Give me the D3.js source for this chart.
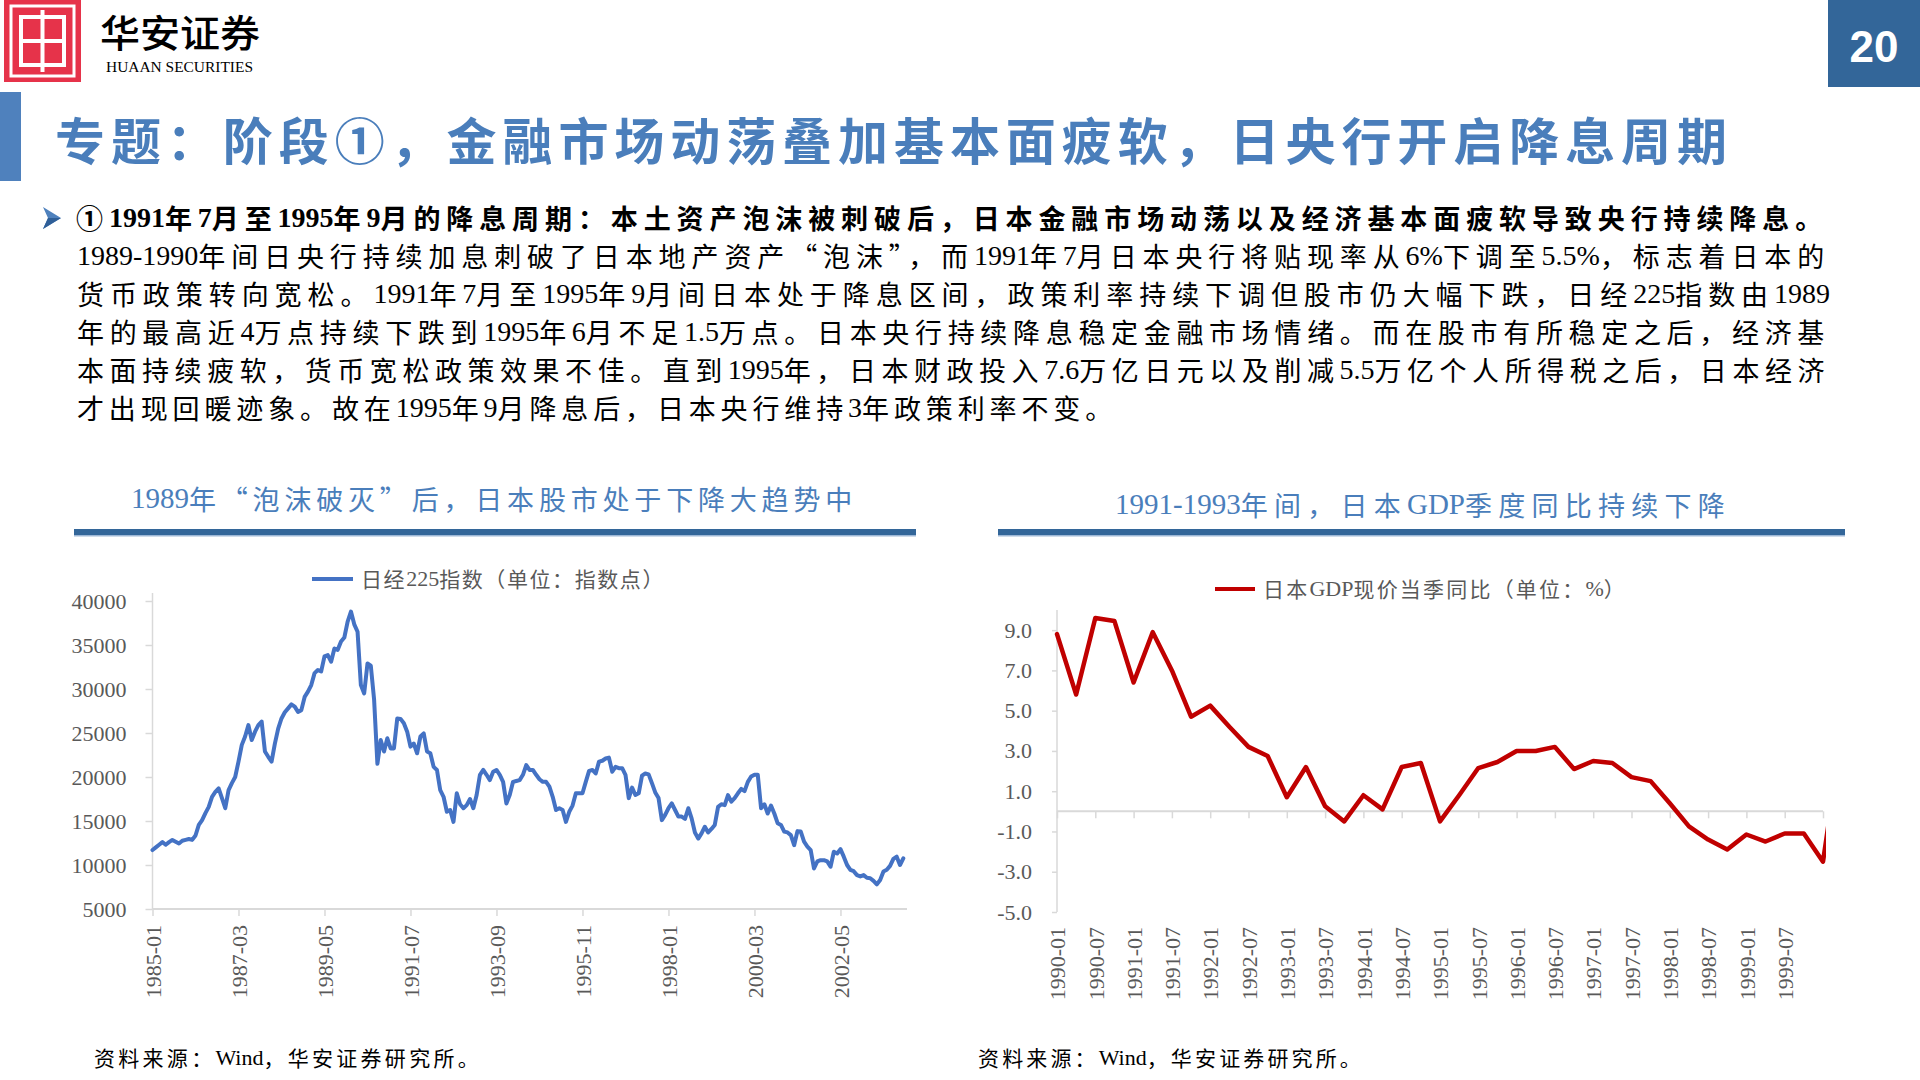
<!DOCTYPE html>
<html><head><meta charset="utf-8">
<script src="https://cdn.jsdelivr.net/npm/d3@7/dist/d3.min.js"></script>
<style>html,body{margin:0;padding:0;background:#fff;}svg{display:block}</style>
</head><body>
<svg id="c" width="1920" height="1080"></svg>
<script>
// ---------------- DATA ----------------
const pageTitle = "专题：阶段①，金融市场动荡叠加基本面疲软，日央行开启降息周期";
const pageNumber = "20";
const leadLine = "①1991年7月至1995年9月的降息周期：本土资产泡沫被刺破后，日本金融市场动荡以及经济基本面疲软导致央行持续降息。";
const bodyLines = [
  "1989-1990年间日央行持续加息刺破了日本地产资产“泡沫”，而1991年7月日本央行将贴现率从6%下调至5.5%，标志着日本的",
  "货币政策转向宽松。1991年7月至1995年9月间日本处于降息区间，政策利率持续下调但股市仍大幅下跌，日经225指数由1989",
  "年的最高近4万点持续下跌到1995年6月不足1.5万点。日本央行持续降息稳定金融市场情绪。而在股市有所稳定之后，经济基",
  "本面持续疲软，货币宽松政策效果不佳。直到1995年，日本财政投入7.6万亿日元以及削减5.5万亿个人所得税之后，日本经济",
  "才出现回暖迹象。故在1995年9月降息后，日本央行维持3年政策利率不变。"
];
const nikkeiTitle = "1989年“泡沫破灭”后，日本股市处于下降大趋势中";
const nikkeiLegend = "日经225指数（单位：指数点）";
const nikkeiStartYear = 1985;
const nikkeiValues = [
  11700,12000,12300,12600,12300,12600,12850,12650,12450,12750,12850,12950,
  12850,13350,14550,15100,15900,16600,17750,18300,18700,17600,16450,18500,
  19300,20000,21750,23650,24600,25900,24200,25150,25900,26300,22900,22300,
  21750,23800,25500,26650,27350,27800,28250,28000,27400,27600,29100,29700,
  30450,31800,32150,32000,33700,33850,33100,34600,34450,35400,35850,37650,
  38800,37350,36500,30450,29500,32900,32650,28800,21500,24200,22900,24400,
  23250,23250,26650,26600,26100,25150,23450,23800,22700,24600,24950,22900,
  22700,21150,20800,18500,17750,16050,16250,14900,18150,16900,16450,16800,
  17500,16450,17950,20250,20800,20250,19650,20600,20800,20250,19450,17000,
  17950,19450,19550,19650,20250,21350,20800,20800,20250,19750,19450,19450,
  18900,17750,16250,16450,16250,14900,16050,16750,18150,18150,18150,19450,
  20700,20800,20400,21750,21850,22100,22200,20600,21150,21000,21000,20250,
  17600,18800,17950,18150,20150,20400,20300,19300,18250,17600,15100,15700,
  16450,17000,16250,15500,15500,15250,16450,15300,13700,13000,13600,14350,
  13700,14100,14550,16600,16900,16800,17950,17200,17600,18150,18650,18400,
  19450,20050,20250,20250,16450,16900,15850,16750,15850,14750,14550,13800,
  13700,13400,12250,13850,13800,12650,12100,11700,9600,10400,10550,10550,
  10400,9800,11500,11300,11800,10950,10000,9450,9300,8850,8700,8850,
  8550,8500,8200,7800,8300,9250,9450,9900,10700,10950,10000,10750
];
const nikkeiYTicks = [5000,10000,15000,20000,25000,30000,35000,40000];
const nikkeiXTicks = ["1985-01","1987-03","1989-05","1991-07","1993-09","1995-11","1998-01","2000-03","2002-05"];

const gdpTitle = "1991-1993年间，日本GDP季度同比持续下降";
const gdpLegend = "日本GDP现价当季同比（单位：%）";
const gdpQuarters = [
  "1990-01","1990-04","1990-07","1990-10","1991-01","1991-04","1991-07","1991-10",
  "1992-01","1992-04","1992-07","1992-10","1993-01","1993-04","1993-07","1993-10",
  "1994-01","1994-04","1994-07","1994-10","1995-01","1995-04","1995-07","1995-10",
  "1996-01","1996-04","1996-07","1996-10","1997-01","1997-04","1997-07","1997-10",
  "1998-01","1998-04","1998-07","1998-10","1999-01","1999-04","1999-07","1999-10",
  "2000-01","2000-04"
];
const gdpValues = [
  8.8,5.8,9.6,9.45,6.4,8.9,7.0,4.7,
  5.25,4.2,3.2,2.75,0.7,2.2,0.25,-0.5,
  0.8,0.1,2.2,2.4,-0.5,0.8,2.15,2.45,
  3.0,3.0,3.2,2.1,2.5,2.4,1.7,1.5,
  0.4,-0.75,-1.4,-1.9,-1.15,-1.5,-1.1,-1.1,
  -2.5,4.0
];
const gdpYTicks = [-5,-3,-1,1,3,5,7,9];
const gdpXTicks = ["1990-01","1990-07","1991-01","1991-07","1992-01","1992-07","1993-01","1993-07",
  "1994-01","1994-07","1995-01","1995-07","1996-01","1996-07","1997-01","1997-07",
  "1998-01","1998-07","1999-01","1999-07"];
const gdpTickMarks = ["1990-01","1990-07","1991-01","1991-07","1992-01","1992-07","1993-01","1993-07",
  "1994-01","1994-07","1995-01","1995-07","1996-01","1996-07","1997-01","1997-07",
  "1998-01","1998-07","1999-01","1999-07","2000-01"];
const sourceNote = "资料来源：Wind，华安证券研究所。";

// ---------------- DRAW ----------------
const svg = d3.select("#c");
const SERIF = "'Liberation Serif','Times New Roman',serif";
const MIX = "'Liberation Serif','Noto Sans CJK SC',serif";
const CJK = "'Noto Sans CJK SC',sans-serif";
const BLUE = "#4a7ebb", DARKBLUE = "#336699", GREY = "#595959", AXIS = "#d9d9d9";

function text(g, x, y, s, o) {
  o = o || {};
  const t = g.append("text").attr("x", x).attr("y", y).text(s)
    .attr("font-family", o.family || MIX)
    .attr("font-size", o.size || 20)
    .attr("font-weight", o.weight || 400)
    .attr("fill", o.fill || "#000")
    .attr("dominant-baseline", o.baseline || "central");
  if (o.anchor) t.attr("text-anchor", o.anchor);
  if (o.len) t.attr("textLength", o.len).attr("lengthAdjust", o.adjust || "spacing");
  return t;
}

// mixed text: Latin runs in serif (tight), CJK runs in Noto Sans CJK with letter-spacing to justify
function rich(g, x, y, s, o) {
  o = o || {};
  const t = g.append("text").attr("x", x).attr("y", y)
    .attr("font-size", o.size || 20).attr("font-weight", o.weight || 400)
    .attr("fill", o.fill || "#000").attr("dominant-baseline", "central");
  const runs = s.match(/[\x20-\x7E]+|[^\x20-\x7E]+/g);
  let nCjk = 0;
  const spans = runs.map(r => {
    const latin = /^[\x20-\x7E]+$/.test(r);
    if (!latin) nCjk += r.length;
    return t.append("tspan").text(r).attr("font-family", latin ? SERIF : CJK)
      .attr("font-size", latin ? (o.latinSize || o.size || 20) : (o.size || 20))
      .attr("dominant-baseline", "central")
      .classed("cjk", !latin);
  });
  if (o.len && nCjk > 0) {
    const w0 = t.node().getComputedTextLength();
    const ls = (o.len - w0) / nCjk;
    spans.forEach(sp => { if (sp.classed("cjk")) sp.attr("letter-spacing", ls); });
  }
  return t;
}

// Header: logo
const logo = svg.append("g");
logo.append("rect").attr("x", 4).attr("y", 0).attr("width", 77).attr("height", 82).attr("fill", "#e6334a");
logo.append("rect").attr("x", 11).attr("y", 6).attr("width", 63).attr("height", 70).attr("fill", "none").attr("stroke", "#fff").attr("stroke-width", 3);
logo.append("rect").attr("x", 21).attr("y", 17).attr("width", 43).attr("height", 48).attr("fill", "none").attr("stroke", "#fff").attr("stroke-width", 4);
logo.append("rect").attr("x", 21).attr("y", 39).attr("width", 43).attr("height", 4).attr("fill", "#fff");
logo.append("rect").attr("x", 40.5).attr("y", 10).attr("width", 4).attr("height", 62).attr("fill", "#fff");
text(svg, 100, 30, "华安证券", {family: CJK, size: 38, weight: 500, len: 160, adjust: "spacingAndGlyphs"});
text(svg, 106, 67, "HUAAN SECURITIES", {family: SERIF, size: 15, len: 147, adjust: "spacingAndGlyphs"});

// page number
svg.append("rect").attr("x", 1828).attr("y", 0).attr("width", 92).attr("height", 87).attr("fill", DARKBLUE);
text(svg, 1874, 46, pageNumber, {family: "'Liberation Sans',Arial,sans-serif", size: 44, weight: 700, fill: "#fff", anchor: "middle"});

// title
svg.append("rect").attr("x", 0).attr("y", 92).attr("width", 21).attr("height", 89).attr("fill", "#4f81bd");
text(svg, 55, 138, pageTitle, {family: CJK, size: 50, weight: 700, fill: BLUE, len: 1672});

// bullet + paragraph
svg.append("path").attr("d", "M43,207 L61,218 L43,229 L48,218 Z").attr("fill", "#4f81bd");
svg.append("path").attr("d", "M48,218 L61,218 L43,229 Z").attr("fill", "#2f5f98");
rich(svg, 76, 217, leadLine, {size: 27, latinSize: 28, weight: 700, len: 1752});
const lineY = [255, 293, 331, 369, 407];
const lineLen = [1753, 1753, 1753, 1753, 1040];
bodyLines.forEach((s, i) => rich(svg, 77, lineY[i], s, {size: 27, latinSize: 28, len: lineLen[i]}));

// ---------- Left chart ----------
const left = svg.append("g");
rich(left, 131, 498, nikkeiTitle, {size: 27, latinSize: 29, fill: BLUE, len: 726});
left.append("rect").attr("x", 74).attr("y", 529).attr("width", 842).attr("height", 6).attr("fill", DARKBLUE);
left.append("rect").attr("x", 74).attr("y", 535).attr("width", 842).attr("height", 1.5).attr("fill", "#9db7d6");

const months = nikkeiValues.map((v, i) => {
  const y = nikkeiStartYear + Math.floor(i / 12), m = i % 12 + 1;
  return y + "-" + (m < 10 ? "0" + m : m);
});
const nx = d3.scalePoint().domain(months).range([152.5, 903.3]);
const ny = d3.scaleLinear().domain([5000, 40000]).range([909, 601]);

left.append("line").attr("x1", 312).attr("x2", 353).attr("y1", 579).attr("y2", 579).attr("stroke", "#4472c4").attr("stroke-width", 4);
rich(left, 361, 578, nikkeiLegend, {size: 21, latinSize: 22, fill: GREY, len: 304});

// axes
const lya = left.append("g").attr("transform", "translate(152.5,0)")
  .call(d3.axisLeft(ny).tickValues(nikkeiYTicks).tickSize(7).tickPadding(19).tickFormat(d => String(d)));
lya.select(".domain").remove();
lya.selectAll(".tick line").attr("stroke", AXIS).attr("stroke-width", 1.5);
lya.selectAll(".tick text").attr("font-family", SERIF).attr("font-size", 22).attr("fill", GREY);
left.append("line").attr("x1", 152.5).attr("x2", 152.5).attr("y1", 593).attr("y2", 909).attr("stroke", AXIS).attr("stroke-width", 1.5);

const lxa = left.append("g").attr("transform", "translate(0,909)")
  .call(d3.axisBottom(nx).tickValues(nikkeiXTicks).tickSize(7));
lxa.select(".domain").remove();
lxa.selectAll(".tick line").attr("stroke", AXIS).attr("stroke-width", 1.5);
lxa.selectAll(".tick text").attr("font-family", SERIF).attr("font-size", 22).attr("fill", GREY)
  .attr("y", 0).attr("dy", "0.35em").attr("x", 0)
  .attr("transform", "translate(0,16) rotate(-90)").attr("text-anchor", "end");
left.append("line").attr("x1", 152.5).attr("x2", 907).attr("y1", 909).attr("y2", 909).attr("stroke", AXIS).attr("stroke-width", 2);

left.append("path").datum(nikkeiValues)
  .attr("d", d3.line().x((d, i) => nx(months[i])).y(d => ny(d)))
  .attr("fill", "none").attr("stroke", "#4472c4").attr("stroke-width", 4)
  .attr("stroke-linejoin", "round").attr("stroke-linecap", "round");

// ---------- Right chart ----------
const right = svg.append("g");
rich(right, 1115, 504, gdpTitle, {size: 27, latinSize: 29, fill: BLUE, len: 616});
right.append("rect").attr("x", 998).attr("y", 529).attr("width", 847).attr("height", 6).attr("fill", DARKBLUE);
right.append("rect").attr("x", 998).attr("y", 535).attr("width", 847).attr("height", 1.5).attr("fill", "#9db7d6");

const gx = d3.scalePoint().domain(gdpQuarters).range([1057, 1057 + 41 * 19.15]);
const gy = d3.scaleLinear().domain([-5, 10]).range([912, 610]);

right.append("line").attr("x1", 1215).attr("x2", 1255).attr("y1", 589).attr("y2", 589).attr("stroke", "#c00000").attr("stroke-width", 4);
rich(right, 1263, 588, gdpLegend, {size: 21, latinSize: 22, fill: GREY, len: 364});

const rya = right.append("g").attr("transform", "translate(1057,0)")
  .call(d3.axisLeft(gy).tickValues(gdpYTicks).tickSize(5).tickPadding(20).tickFormat(d => d.toFixed(1)));
rya.select(".domain").remove();
rya.selectAll(".tick line").attr("stroke", AXIS).attr("stroke-width", 1.5);
rya.selectAll(".tick text").attr("font-family", SERIF).attr("font-size", 22).attr("fill", GREY);
right.append("line").attr("x1", 1057).attr("x2", 1057).attr("y1", 610).attr("y2", 912).attr("stroke", AXIS).attr("stroke-width", 1.5);

const zeroY = gy(0);
const rxa = right.append("g").attr("transform", `translate(0,${zeroY})`)
  .call(d3.axisBottom(gx).tickValues(gdpTickMarks).tickSize(7)
    .tickFormat(d => gdpXTicks.includes(d) ? d : ""));
rxa.select(".domain").remove();
rxa.selectAll(".tick line").attr("stroke", AXIS).attr("stroke-width", 1.5);
rxa.selectAll(".tick text").attr("font-family", SERIF).attr("font-size", 22).attr("fill", GREY)
  .attr("y", 0).attr("dy", "0.35em").attr("x", 0)
  .attr("transform", `translate(0,${927 - zeroY}) rotate(-90)`).attr("text-anchor", "end");
right.append("line").attr("x1", 1057).attr("x2", gx(gdpQuarters[40])).attr("y1", zeroY).attr("y2", zeroY).attr("stroke", AXIS).attr("stroke-width", 2);

svg.append("defs").append("clipPath").attr("id", "gclip")
  .append("rect").attr("x", 1040).attr("y", 590).attr("width", 1826 - 1040).attr("height", 330);
right.append("path").datum(gdpValues).attr("clip-path", "url(#gclip)")
  .attr("d", d3.line().x((d, i) => gx(gdpQuarters[i])).y(d => gy(d)))
  .attr("fill", "none").attr("stroke", "#c00000").attr("stroke-width", 4.5)
  .attr("stroke-linejoin", "round").attr("stroke-linecap", "round");

// sources
rich(svg, 94, 1057, sourceNote, {size: 21, latinSize: 22, len: 388});
rich(svg, 978, 1057, sourceNote, {size: 21, latinSize: 22, len: 386});
</script>
</body></html>
